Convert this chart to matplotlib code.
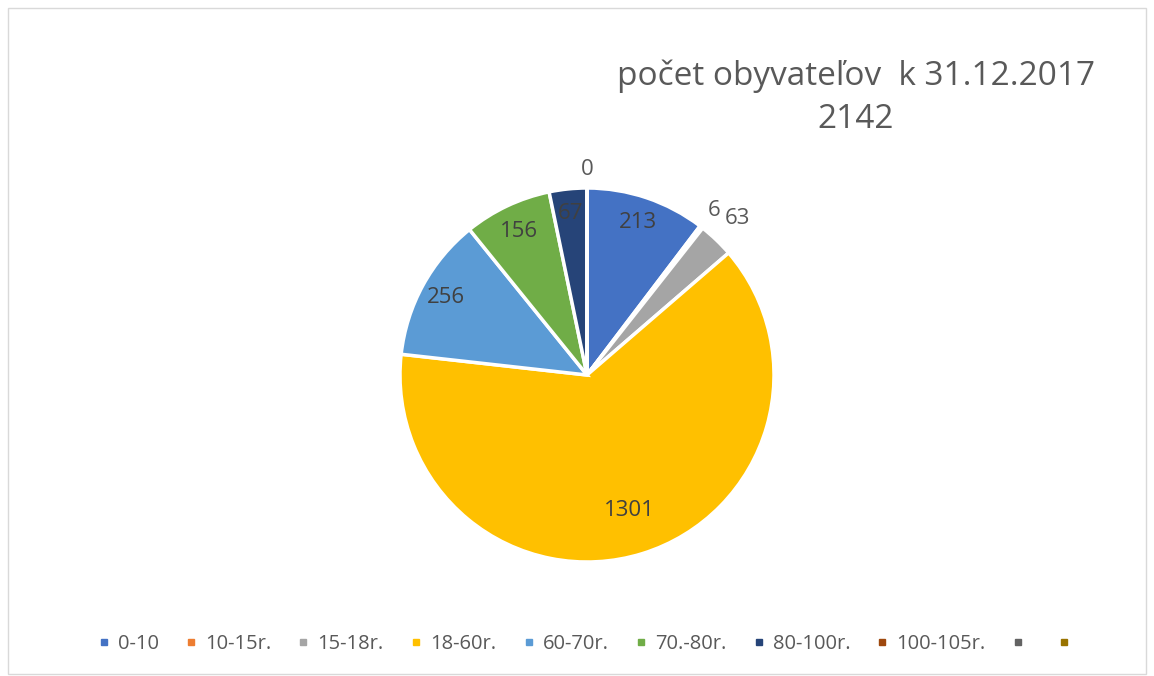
import matplotlib
matplotlib.use("Agg")
import matplotlib.pyplot as plt
from matplotlib.lines import Line2D
from matplotlib.patches import Rectangle
import numpy as np

categories = ["0-10", "10-15r.", "15-18r.", "18-60r.", "60-70r.", "70.-80r.", "80-100r.", "100-105r.", "", ""]
values = [213, 6, 63, 1301, 256, 156, 67, 0, 0, 0]
data_labels = ["213", "6", "63", "1301", "256", "156", "67", "0", "", ""]
colors = ["#4472C4", "#ED7D31", "#A5A5A5", "#FFC000", "#5B9BD5", "#70AD47",
          "#264478", "#9E480E", "#636363", "#997300"]
label_dist = [0.86, 1.11, 1.16, 0.76, 0.86, 0.85, 0.87, 1.10, 1.1, 1.1]
title_lines = ["počet obyvateľov  k 31.12.2017", "2142"]

plt.rcParams['font.family'] = ['Open Sans', 'DejaVu Sans']
txt_color = "#595959"

W, H = 1154, 676
fig = plt.figure(figsize=(W / 100, H / 100), dpi=100)
fig.patch.set_facecolor("white")

# chart border
fig.add_artist(Rectangle((8 / W, 2 / H), (W - 16) / W, (H - 10) / H, transform=fig.transFigure,
                         fill=False, edgecolor="#D9D9D9", linewidth=1))

cx, cy, R = 587, 375, 187
ax = fig.add_axes([(cx - R) / W, (H - cy - R) / H, 2 * R / W, 2 * R / H])
wedges, _ = ax.pie(values, colors=colors, startangle=90, counterclock=False, radius=1,
                   wedgeprops=dict(edgecolor="white", linewidth=2.5))
ax.set_xlim(-1, 1)
ax.set_ylim(-1, 1)
ax.set_axis_off()

for w, lab, d in zip(wedges, data_labels, label_dist):
    if not lab:
        continue
    mid = np.deg2rad((w.theta1 + w.theta2) / 2)
    ax.text(d * np.cos(mid), d * np.sin(mid), lab, ha="center", va="center",
            fontsize=16, color="#404040" if d < 1 else txt_color, clip_on=False)

fig.text(856 / W, 1 - 76 / H, title_lines[0], ha="center", va="center", fontsize=24, color=txt_color)
fig.text(856 / W, 1 - 119 / H, title_lines[1], ha="center", va="center", fontsize=24, color=txt_color)

handles = [Line2D([], [], marker="s", linestyle="none", markersize=5, markerfacecolor=c,
                  markeredgecolor=c) for c in colors]
fig.legend(handles, categories, loc="center", bbox_to_anchor=(588 / W, 1 - 644 / H), ncol=10,
           frameon=False, fontsize=14.5, labelcolor=txt_color, handlelength=0.6,
           handletextpad=0.4, columnspacing=1.3)

fig.savefig("out.png", dpi=100)
